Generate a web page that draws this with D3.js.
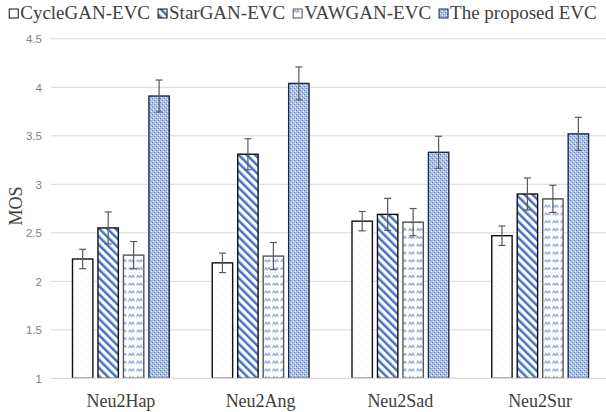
<!DOCTYPE html>
<html>
<head>
<meta charset="utf-8">
<script src="https://cdn.jsdelivr.net/npm/d3@7"></script>
<style>
  html, body { margin: 0; padding: 0; background: #fff; }
  svg { display: block; }
</style>
</head>
<body>
<svg id="chart" width="606" height="412"></svg>
<script>
// Conversion tasks and systems
const categories = ["Neu2Hap", "Neu2Ang", "Neu2Sad", "Neu2Sur"];
const seriesNames = ["CycleGAN-EVC", "StarGAN-EVC", "VAWGAN-EVC", "The proposed EVC"];

// Mean opinion scores per system
const cycleganMos  = [2.23, 2.19, 2.62, 2.47];
const starganMos   = [2.55, 3.31, 2.69, 2.90];
const vawganMos    = [2.27, 2.26, 2.61, 2.85];
const proposedMos  = [3.91, 4.04, 3.33, 3.52];

// Error bar half-lengths
const cycleganErr  = [0.10, 0.10, 0.10, 0.10];
const starganErr   = [0.165, 0.16, 0.165, 0.165];
const vawganErr    = [0.14, 0.14, 0.14, 0.14];
const proposedErr  = [0.165, 0.17, 0.165, 0.17];

const yTicks = [1, 1.5, 2, 2.5, 3, 3.5, 4, 4.5];

const svg = d3.select("#chart");
const defs = svg.append("defs");

// Fill patterns
const pDots = defs.append("pattern").attr("id", "p-dots")
  .attr("patternUnits", "userSpaceOnUse").attr("width", 8).attr("height", 8);
pDots.append("rect").attr("width", 8).attr("height", 8).attr("fill", "#fff");
pDots.append("rect").attr("x", 2).attr("y", 2).attr("width", 1).attr("height", 1).attr("fill", "#e2e2e2");
pDots.append("rect").attr("x", 6).attr("y", 6).attr("width", 1).attr("height", 1).attr("fill", "#e2e2e2");

const pStripe = defs.append("pattern").attr("id", "p-stripe")
  .attr("patternUnits", "userSpaceOnUse").attr("width", 5.8).attr("height", 10)
  .attr("patternTransform", "rotate(-45)");
pStripe.append("rect").attr("width", 5.8).attr("height", 10).attr("fill", "#fff");
pStripe.append("rect").attr("width", 2.5).attr("height", 10).attr("fill", "#4472c4");

const pWave = defs.append("pattern").attr("id", "p-wave")
  .attr("patternUnits", "userSpaceOnUse").attr("width", 8).attr("height", 7.8);
pWave.append("rect").attr("width", 8).attr("height", 7.8).attr("fill", "#fff");
pWave.append("path").attr("d", "M0.5,4.5 L2,2.5 L3.5,4.5 L5,2.5 L6.5,4.5")
  .attr("fill", "none").attr("stroke", "#86a2dc").attr("stroke-width", 1.1);

const pWeave = defs.append("pattern").attr("id", "p-weave")
  .attr("patternUnits", "userSpaceOnUse").attr("width", 4).attr("height", 4);
pWeave.append("rect").attr("width", 4).attr("height", 4).attr("fill", "#aabfe7");
pWeave.append("rect").attr("x", 1).attr("y", 1).attr("width", 1).attr("height", 1).attr("fill", "#f0f4fb");
pWeave.append("rect").attr("x", 3).attr("y", 3).attr("width", 1).attr("height", 1).attr("fill", "#f0f4fb");
pWeave.append("rect").attr("x", 0).attr("y", 2).attr("width", 1).attr("height", 1).attr("fill", "#6189cf");
pWeave.append("rect").attr("x", 2).attr("y", 0).attr("width", 1).attr("height", 1).attr("fill", "#6189cf");

const series = [
  { name: seriesNames[0], values: cycleganMos, errs: cycleganErr, fill: "url(#p-dots)",   stroke: "#111" },
  { name: seriesNames[1], values: starganMos,  errs: starganErr,  fill: "url(#p-stripe)", stroke: "#111" },
  { name: seriesNames[2], values: vawganMos,   errs: vawganErr,   fill: "url(#p-wave)",   stroke: "#555" },
  { name: seriesNames[3], values: proposedMos, errs: proposedErr, fill: "url(#p-weave)",  stroke: "#1c2a48" }
];

// Scales
const plotLeft = 51, plotRight = 610;
const y = d3.scaleLinear().domain([1, 4.5]).range([378.3, 38.8]);
const x0 = d3.scaleBand().domain(categories).range([plotLeft, plotRight]).padding(0);
const x1 = d3.scaleBand().domain(seriesNames).range([21.5, 118.3]).paddingInner(0.2).paddingOuter(0);

// Gridlines
svg.append("g").selectAll("line").data(yTicks.filter(t => t > 1)).join("line")
  .attr("x1", plotLeft).attr("x2", 606)
  .attr("y1", d => y(d)).attr("y2", d => y(d))
  .attr("stroke", "#d9d9d9").attr("stroke-width", 1);

// Y axis labels
const yAxis = d3.axisLeft(y).tickValues(yTicks).tickSize(0).tickPadding(0)
  .tickFormat(d3.format("~g"));
const yG = svg.append("g").attr("transform", "translate(42,0)").call(yAxis);
yG.select(".domain").remove();
yG.selectAll("text")
  .attr("font-family", "'Liberation Sans', Arial, sans-serif")
  .attr("font-size", 11.5).attr("fill", "#7f7f7f").attr("dy", "0.35em");

// Y axis title
svg.append("text")
  .attr("transform", "translate(22,206) rotate(-90)")
  .attr("text-anchor", "middle")
  .attr("font-family", "'Liberation Serif', 'Times New Roman', serif")
  .attr("font-size", 18).attr("fill", "#404040")
  .text("MOS");

// Bars
const barG = svg.append("g");
series.forEach(s => {
  const g = barG.append("g");
  g.selectAll("rect").data(categories.map((c, i) => ({ c, v: s.values[i], e: s.errs[i] })))
    .join("rect")
    .attr("x", d => x0(d.c) + x1(s.name))
    .attr("width", x1.bandwidth())
    .attr("y", d => y(d.v))
    .attr("height", d => y(1) - y(d.v))
    .attr("fill", s.fill)
    .attr("stroke", s.stroke)
    .attr("stroke-width", 1.4);
});

// X axis baseline
svg.append("line")
  .attr("x1", plotLeft).attr("x2", 606)
  .attr("y1", y(1)).attr("y2", y(1))
  .attr("stroke", "#d9d9d9").attr("stroke-width", 1.2);

// Error bars
const errG = svg.append("g").attr("stroke", "#595959").attr("stroke-width", 1.2);
series.forEach(s => {
  categories.forEach((c, i) => {
    const cx = x0(c) + x1(s.name) + x1.bandwidth() / 2;
    const hi = y(s.values[i] + s.errs[i]);
    const lo = y(s.values[i] - s.errs[i]);
    errG.append("line").attr("x1", cx).attr("x2", cx).attr("y1", hi).attr("y2", lo);
    errG.append("line").attr("x1", cx - 3.5).attr("x2", cx + 3.5).attr("y1", hi).attr("y2", hi);
    errG.append("line").attr("x1", cx - 3.5).attr("x2", cx + 3.5).attr("y1", lo).attr("y2", lo);
  });
});

// Category labels
const xAxis = d3.axisBottom(x0).tickSize(0).tickPadding(0);
const xG = svg.append("g").attr("transform", "translate(0,407)").call(xAxis);
xG.select(".domain").remove();
xG.selectAll("text")
  .attr("dy", 0)
  .attr("font-family", "'Liberation Serif', 'Times New Roman', serif")
  .attr("font-size", 18).attr("fill", "#404040");

// Legend
const legend = svg.append("g");
const legendFont = 19;
const items = legend.selectAll("g").data(series).join("g");
items.append("rect")
  .attr("x", 0).attr("y", 9).attr("width", 9).attr("height", 9)
  .attr("fill", d => d.fill).attr("stroke", d => d.stroke).attr("stroke-width", 1);
items.append("text")
  .attr("x", 11).attr("y", 19)
  .attr("font-family", "'Liberation Serif', 'Times New Roman', serif")
  .attr("font-size", legendFont).attr("fill", "#404040")
  .text(d => d.name);
const widths = [];
items.each(function () { widths.push(this.getBBox().width); });
const gap = 8;
const total = d3.sum(widths) + gap * (widths.length - 1);
let cursor = 303 - total / 2;
items.attr("transform", (d, i) => {
  const t = `translate(${cursor},0)`;
  cursor += widths[i] + gap;
  return t;
});
</script>
</body>
</html>
